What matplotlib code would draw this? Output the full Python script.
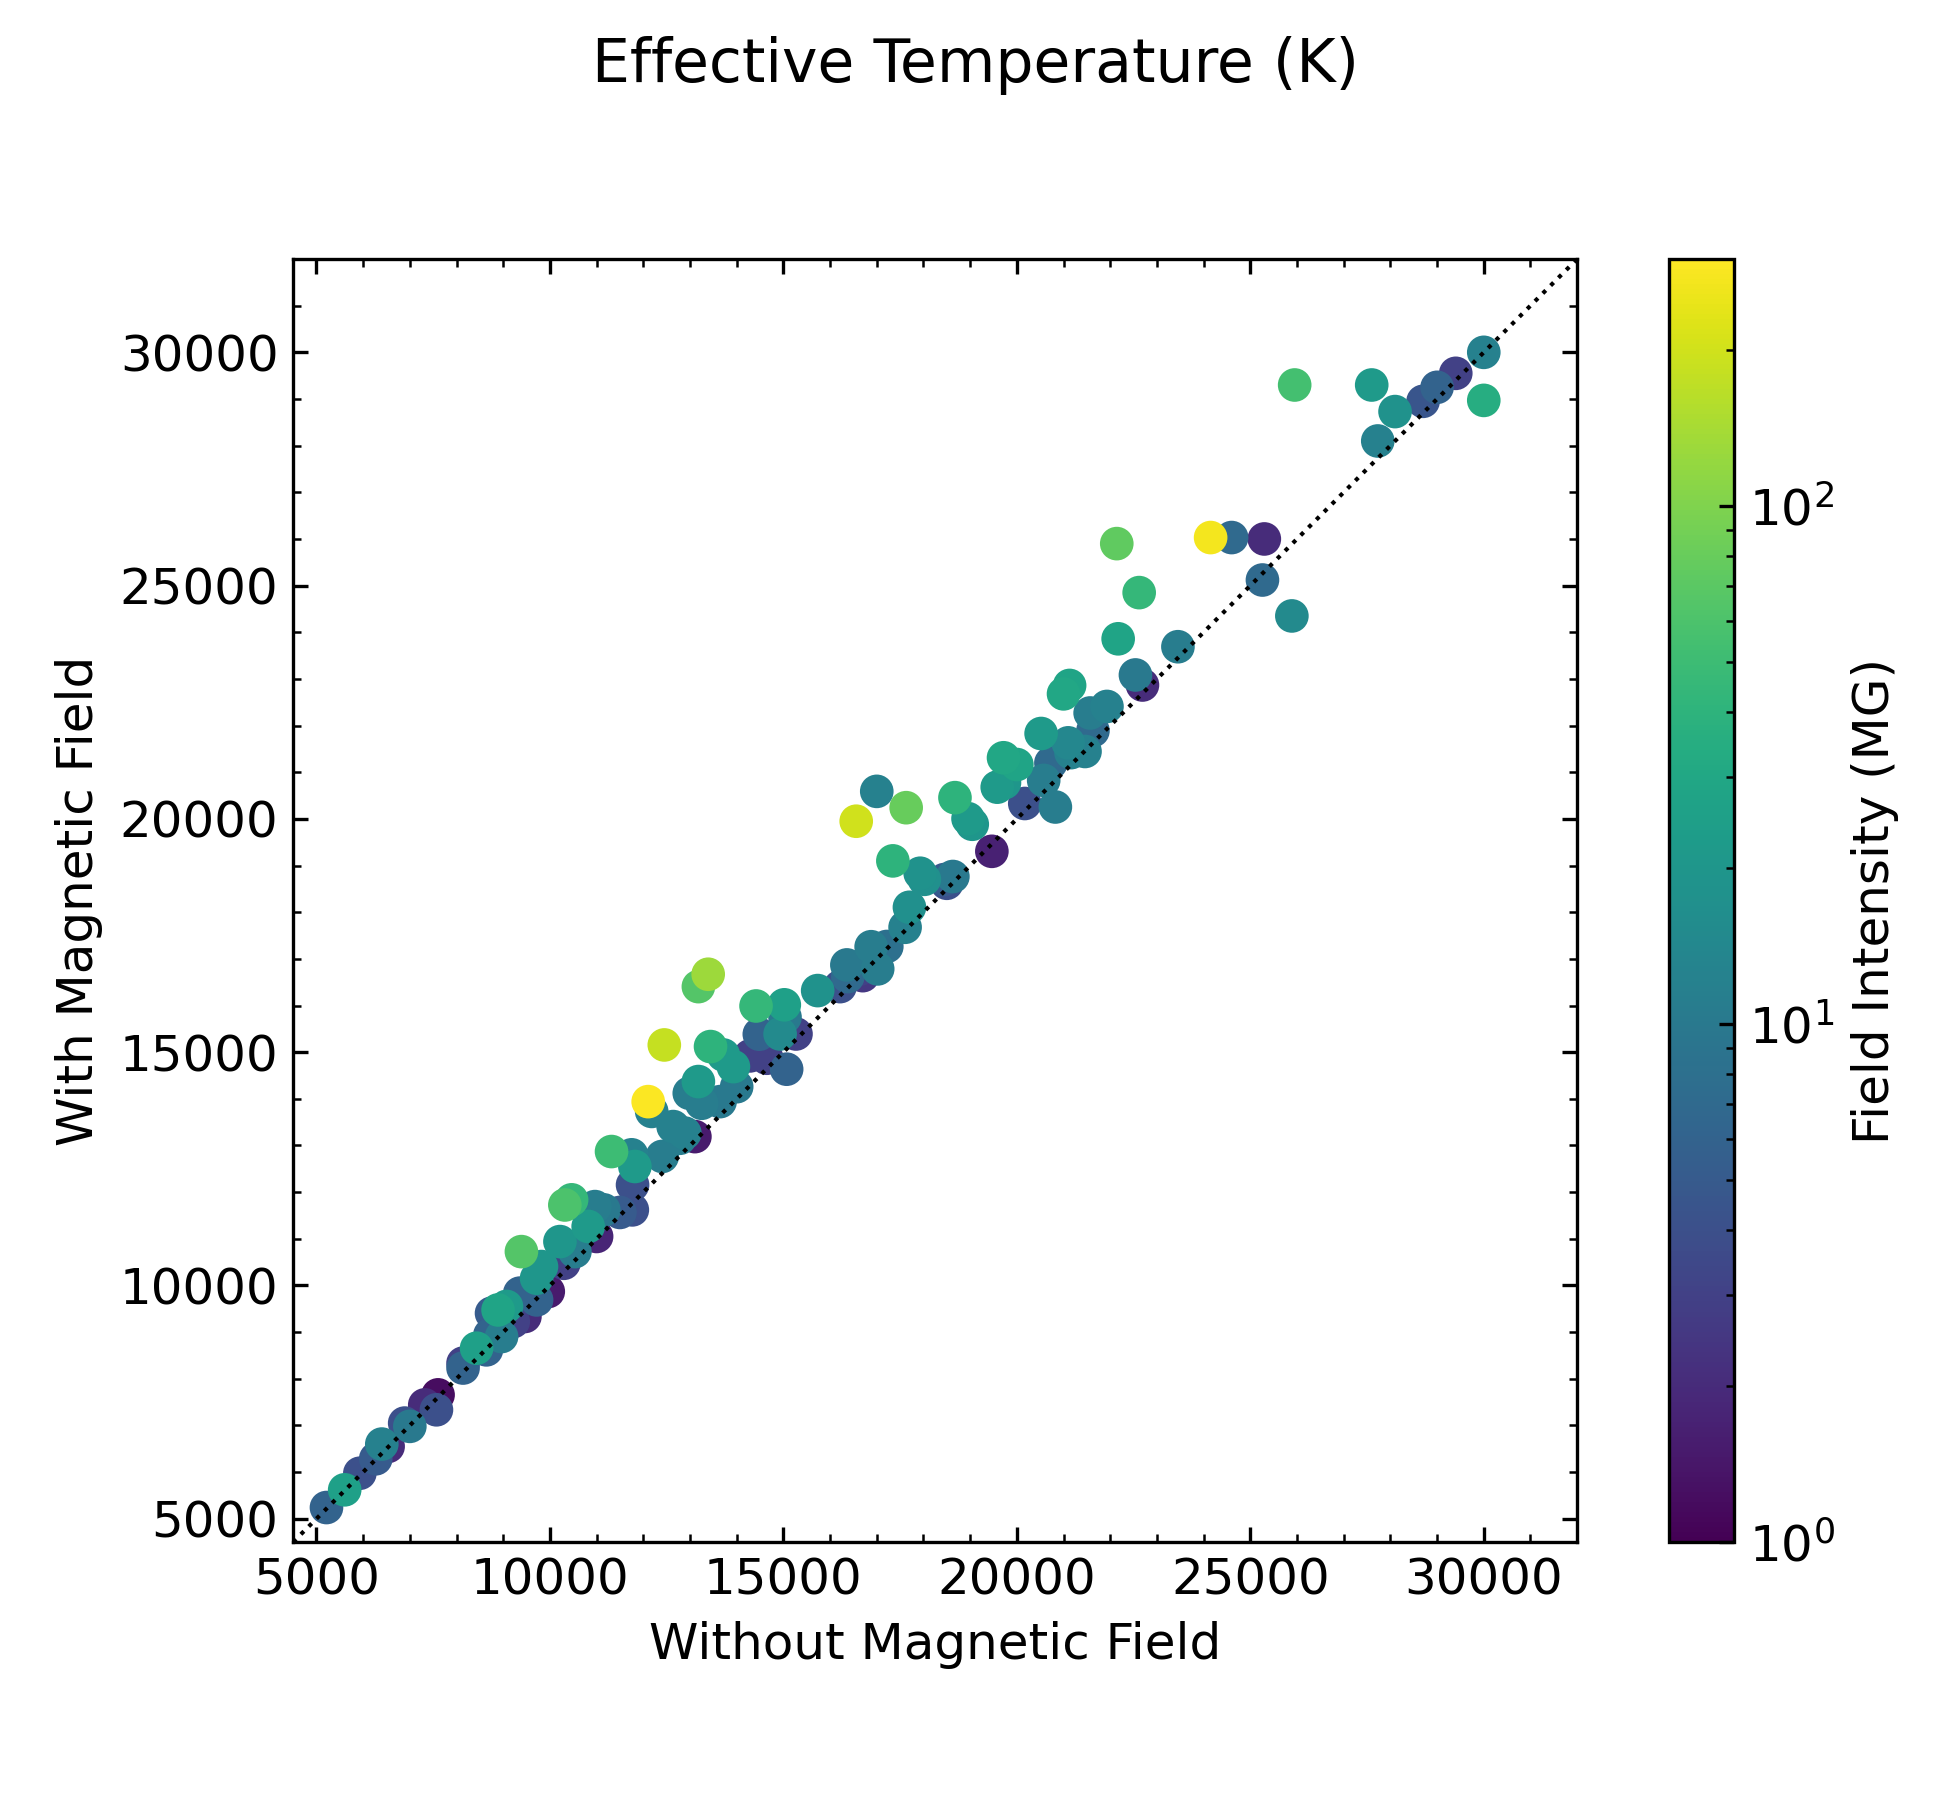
import numpy as np
import matplotlib
matplotlib.use("Agg")
import matplotlib.pyplot as plt
from matplotlib.colors import LogNorm

# Effective temperatures (K) fitted without / with a magnetic field, and field strength (MG)
teff_no_field = [
    5215, 5605, 5930, 6270, 6400, 6535, 6890, 7000, 7320, 7605, 7570, 8140, 8140,
    8430, 8640, 8715, 8750, 8890, 8965, 9070, 9215, 9465, 9355, 9715, 9965, 9715,
    9820, 9390, 10300, 10215, 10535, 10820, 11000, 10320, 10465, 10965, 11155,
    11500, 11765, 11770, 11820, 11750, 11320, 12405, 12785, 12640, 12890, 13105,
    12180, 12105, 12450, 12985,
    13250, 13645, 13180, 14000, 13930, 13715, 13440, 14285, 14645, 15070, 14485,
    14930, 15270, 15035, 15020, 14415, 13180, 13390, 15735, 16215, 16380, 16360,
    16700, 16640, 17020, 16880, 17215, 17607, 17700, 18500, 18450, 18630, 17930,
    18020, 17345, 16560, 17630, 17000,
    19465, 18955, 19045, 18675, 19580, 19735, 19715, 20000, 20170, 20825, 20575,
    20730, 21160, 21460, 21100, 20520, 21630, 21570, 21930, 21000, 21130, 22540,
    22690, 22170, 22620, 22140,
    23450, 25890, 25260, 24150, 24600, 25300, 25950, 27600, 27730, 28100, 28700,
    29000, 29400, 30000, 30000,
]
teff_with_field = [
    5240, 5620, 5975, 6285, 6600, 6550, 7050, 6980, 7440, 7655, 7335, 8335, 8230,
    8655, 8620, 8940, 9405, 9475, 8905, 9550, 9225, 9335, 9835, 9690, 9870, 10155,
    10405, 10725, 10475, 10940, 10725, 11265, 11050, 11725, 11835, 11690, 11620,
    11565, 11620, 12155, 12550, 12800, 12870, 12765, 13155, 13405, 13265, 13190,
    13730, 13940, 15155, 14120,
    13905, 13940, 14370, 14260, 14690, 14940, 15120, 14920, 14870, 14635, 15385,
    15390, 15390, 15750, 16015, 15990, 16405, 16670, 16320, 16405, 16620, 16870,
    16640, 16780, 16785, 17260, 17265, 17677, 18105, 18620, 18700, 18765, 18835,
    18705, 19100, 19950, 20240, 20590,
    19305, 20005, 19885, 20455, 20680, 20775, 21310, 21165, 20330, 20255, 20825,
    21200, 21420, 21445, 21630, 21830, 21890, 22270, 22410, 22680, 22860, 23085,
    22870, 23860, 24850, 25900,
    23690, 24350, 25120, 26030, 26030, 26000, 29300, 29300, 28100, 28730, 28950,
    29250, 29550, 30000, 28970,
]
field_mg = [
    6, 25, 4, 5, 12, 2, 4, 10, 2, 1.2, 4, 3, 6,
    25, 6, 6, 5, 28, 11, 22, 3, 2, 6, 6, 1.5, 20,
    20, 65, 3, 20, 11, 22, 1.8, 60, 45, 11, 10,
    5, 4, 4, 22, 12, 50, 11, 11, 12, 12, 1.5,
    12, 290, 180, 11,
    11, 10, 22, 10, 22, 22, 40, 3, 3, 6, 6,
    15, 3, 10, 25, 45, 65, 130, 18, 4, 7, 10,
    2.5, 3, 11, 11, 8, 12, 17, 4, 5, 10, 18,
    17, 40, 200, 80, 12,
    1.7, 22, 20, 40, 22, 20, 30, 28, 4, 11, 11,
    7, 12, 12, 14, 22, 7, 11, 12, 30, 28, 10,
    2, 28, 45, 75,
    11, 15, 7, 270, 7, 2, 55, 22, 12, 18, 4.5,
    6, 3, 12, 35,
]

x = np.array(teff_no_field)
y = np.array(teff_with_field)
b = np.array(field_mg)
order = np.argsort(b)  # strongest fields drawn on top

plt.rcParams['font.size'] = 12

fig = plt.figure(figsize=(6.5, 6), dpi=300)
ax = fig.add_axes([0.1503, 0.1433, 0.6585, 0.7128])
cax = fig.add_axes([0.856, 0.1433, 0.0333, 0.7128])

sc = ax.scatter(x[order], y[order], c=b[order], s=50, cmap='viridis',
                norm=LogNorm(vmin=1, vmax=300), zorder=2)

lims = [4500, 32000]
ax.plot(lims, lims, 'k:', lw=1, zorder=3)
ax.set_xlim(lims)
ax.set_ylim(lims)

ax.set_xticks([5000, 10000, 15000, 20000, 25000, 30000])
ax.set_yticks([5000, 10000, 15000, 20000, 25000, 30000])
ax.minorticks_on()
ax.tick_params(which='both', direction='in', top=True, right=True)

ax.set_xlabel('Without Magnetic Field')
ax.set_ylabel('With Magnetic Field')
fig.suptitle('Effective Temperature (K)')

cbar = fig.colorbar(sc, cax=cax)
cbar.ax.tick_params(which='both', direction='in')
cbar.set_label('Field Intensity (MG)')

fig.savefig('out.png', dpi=300)
